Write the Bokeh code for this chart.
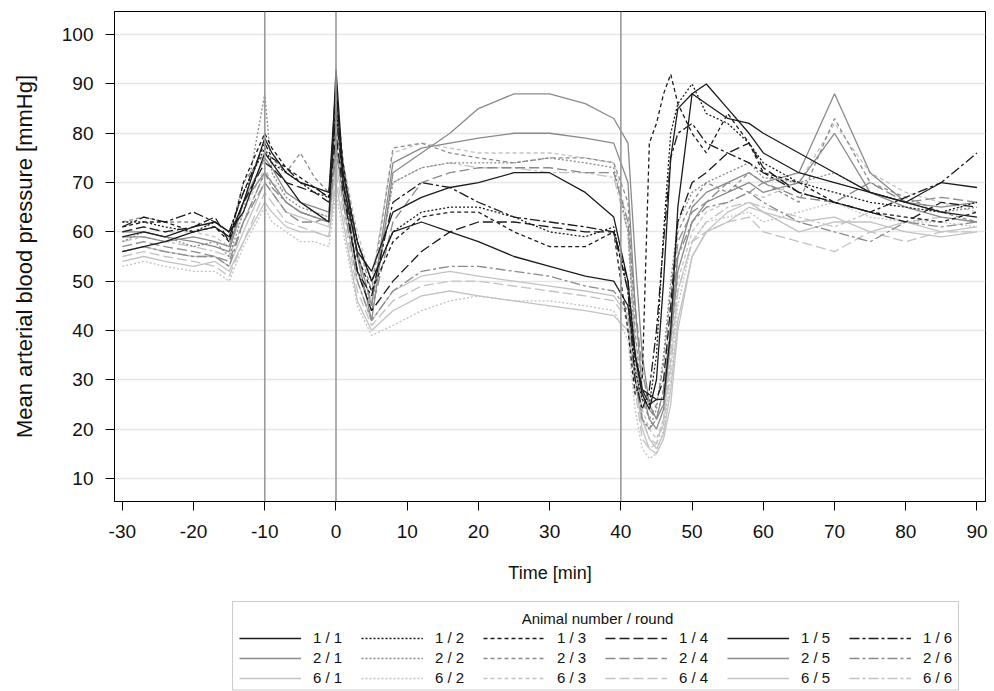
from bokeh.plotting import figure
from bokeh.layouts import column
from bokeh.models import (Range1d, Legend, LegendItem, Span, FixedTicker, Label,
                          BoxAnnotation)
from bokeh.embed import file_html
from bokeh.resources import INLINE

# Sampling times [min]
time_min = [-30, -27, -24, -20, -17, -15, -13, -10, -9, -7,
            -5, -3, -1, 0, 1, 3, 5, 8, 12, 16,
            20, 25, 30, 35, 39, 41, 42, 43, 44, 45,
            46, 47, 48, 50, 52, 55, 58, 60, 65, 70,
            75, 80, 85, 90]

# Mean arterial blood pressure [mmHg], one list per animal / round
map_1_1 = [56, 57, 58, 60, 61, 59, 66, 79, 76, 72, 70, 69, 68, 90, 70, 56, 52, 64, 67, 69,
           70, 72, 72, 68, 63, 50, 35, 27, 24, 30, 50, 75, 85, 88, 86, 83, 82, 80, 76, 72,
           68, 66, 70, 69]
map_1_2 = [62, 62, 61, 60, 62, 60, 68, 77, 74, 72, 70, 68, 67, 85, 72, 58, 50, 60, 64, 65,
           65, 63, 60, 59, 61, 48, 32, 26, 25, 35, 60, 80, 86, 90, 84, 82, 78, 74, 70, 68,
           66, 65, 64, 66]
map_1_3 = [61, 62, 62, 60, 61, 58, 70, 80, 77, 73, 71, 69, 67, 88, 74, 55, 48, 58, 63, 64,
           64, 60, 57, 57, 60, 40, 27, 30, 78, 82, 88, 92, 86, 80, 76, 84, 78, 72, 70, 66,
           64, 63, 62, 64]
map_1_4 = [60, 61, 60, 61, 63, 58, 66, 74, 73, 70, 69, 68, 66, 80, 68, 52, 44, 50, 56, 60,
           62, 62, 61, 60, 60, 50, 35, 28, 25, 26, 30, 45, 62, 70, 72, 76, 78, 73, 68, 66,
           64, 62, 66, 65]
map_1_5 = [59, 60, 59, 61, 62, 60, 64, 76, 74, 70, 66, 64, 62, 93, 72, 58, 50, 60, 62, 60,
           58, 55, 53, 51, 50, 45, 35, 28, 27, 26, 26, 40, 65, 88, 90, 85, 80, 76, 72, 70,
           68, 66, 64, 63]
map_1_6 = [61, 63, 62, 64, 62, 60, 68, 78, 75, 73, 70, 69, 67, 84, 70, 52, 47, 66, 70, 69,
           66, 63, 62, 61, 60, 48, 30, 24, 28, 40, 58, 75, 80, 82, 78, 76, 74, 72, 68, 66,
           64, 67, 70, 76]

map_2_1 = [60, 60, 59, 58, 57, 56, 66, 72, 70, 66, 64, 63, 62, 86, 72, 55, 42, 72, 76, 80,
           85, 88, 88, 86, 83, 78, 55, 35, 25, 22, 25, 40, 55, 65, 68, 70, 72, 70, 72, 88,
           72, 66, 65, 66]
map_2_2 = [58, 60, 59, 57, 58, 55, 64, 88, 72, 67, 65, 64, 63, 78, 70, 52, 45, 70, 73, 74,
           74, 74, 75, 74, 73, 60, 35, 22, 20, 24, 35, 50, 62, 68, 70, 72, 74, 71, 70, 72,
           68, 66, 64, 65]
map_2_3 = [62, 63, 62, 62, 61, 59, 70, 76, 75, 72, 76, 71, 68, 82, 74, 58, 48, 77, 78, 76,
           75, 74, 75, 75, 74, 66, 40, 26, 22, 25, 33, 48, 60, 66, 70, 68, 72, 70, 66, 83,
           70, 67, 64, 62]
map_2_4 = [57, 58, 57, 56, 55, 54, 62, 70, 68, 64, 62, 62, 63, 76, 68, 52, 44, 62, 70, 72,
           73, 73, 73, 72, 72, 62, 45, 32, 24, 22, 28, 42, 58, 64, 66, 70, 68, 70, 67, 66,
           70, 66, 67, 66]
map_2_5 = [59, 59, 58, 59, 58, 57, 66, 75, 73, 68, 66, 65, 64, 84, 70, 56, 45, 74, 77, 78,
           79, 80, 80, 79, 78, 70, 45, 28, 22, 20, 24, 38, 52, 62, 66, 68, 70, 68, 70, 80,
           68, 65, 63, 62]
map_2_6 = [56, 57, 56, 55, 55, 53, 62, 72, 69, 66, 64, 63, 62, 78, 66, 50, 42, 48, 52, 53,
           53, 52, 51, 49, 48, 44, 30, 22, 20, 22, 28, 40, 55, 62, 65, 66, 68, 66, 62, 60,
           58, 62, 61, 62]

map_6_1 = [54, 55, 54, 53, 54, 52, 58, 66, 64, 61, 60, 60, 59, 70, 62, 46, 40, 44, 47, 48,
           47, 46, 45, 44, 43, 40, 30, 20, 16, 15, 18, 25, 40, 55, 60, 62, 65, 64, 62, 63,
           60, 62, 60, 61]
map_6_2 = [53, 54, 53, 52, 52, 50, 57, 65, 62, 60, 58, 58, 57, 68, 60, 45, 39, 41, 44, 46,
           47, 46, 46, 45, 44, 38, 24, 16, 14, 15, 20, 30, 45, 58, 62, 63, 64, 62, 64, 66,
           63, 62, 62, 61]
map_6_3 = [60, 61, 60, 60, 59, 57, 64, 73, 70, 68, 66, 64, 63, 80, 74, 60, 50, 76, 78, 77,
           76, 76, 76, 75, 74, 62, 38, 24, 20, 18, 22, 35, 50, 60, 64, 66, 68, 67, 70, 82,
           72, 68, 66, 64]
map_6_4 = [55, 56, 55, 54, 53, 51, 58, 68, 66, 62, 61, 60, 59, 72, 64, 48, 41, 46, 49, 50,
           50, 49, 48, 47, 46, 42, 28, 18, 16, 17, 22, 34, 48, 58, 60, 62, 63, 60, 58, 56,
           60, 58, 60, 60]
map_6_5 = [56, 57, 56, 55, 55, 53, 60, 70, 68, 64, 63, 62, 61, 74, 66, 50, 42, 48, 51, 52,
           51, 50, 49, 48, 47, 43, 32, 22, 18, 16, 19, 28, 42, 55, 60, 64, 66, 64, 60, 62,
           62, 60, 59, 60]
map_6_6 = [58, 59, 58, 57, 56, 55, 62, 72, 70, 66, 64, 63, 62, 78, 70, 55, 46, 70, 73, 74,
           73, 73, 72, 72, 71, 60, 36, 22, 18, 17, 21, 32, 48, 58, 62, 65, 66, 65, 63, 61,
           64, 62, 63, 62]

animals = ["1", "2", "6"]
rounds = ["1", "2", "3", "4", "5", "6"]
x_ticks = [-30, -20, -10, 0, 10, 20, 30, 40, 50, 60, 70, 80, 90]
y_ticks = [10, 20, 30, 40, 50, 60, 70, 80, 90, 100]
event_times = [-10, 0, 40]

series = {
    ("1", "1"): map_1_1, ("1", "2"): map_1_2, ("1", "3"): map_1_3,
    ("1", "4"): map_1_4, ("1", "5"): map_1_5, ("1", "6"): map_1_6,
    ("2", "1"): map_2_1, ("2", "2"): map_2_2, ("2", "3"): map_2_3,
    ("2", "4"): map_2_4, ("2", "5"): map_2_5, ("2", "6"): map_2_6,
    ("6", "1"): map_6_1, ("6", "2"): map_6_2, ("6", "3"): map_6_3,
    ("6", "4"): map_6_4, ("6", "5"): map_6_5, ("6", "6"): map_6_6,
}

animal_color = {"1": "#1c1c1c", "2": "#8a8a8a", "6": "#c2c2c2"}
round_dash = {"1": "solid", "2": "2 2", "3": "4 3", "4": "10 4", "5": "solid",
              "6": "10 3 3 3"}

FONT = "Liberation Sans"
W = 994
H_MAIN = 596
H_KEY = 95
FRAME_L, FRAME_R = 114, 985

# ---- main time-course panel ----
p = figure(width=W, height=H_MAIN, output_backend="svg", toolbar_location=None,
           x_range=Range1d(-31.1, 91.2), y_range=Range1d(5.3, 104.7),
           min_border_left=FRAME_L, min_border_right=W - FRAME_R, min_border_top=11,
           min_border_bottom=H_MAIN - 501)

p.outline_line_color = "black"
p.outline_line_width = 1
p.xgrid.visible = False
p.ygrid.ticker = FixedTicker(ticks=y_ticks)
p.ygrid.grid_line_color = "#e6e6e6"
p.ygrid.grid_line_width = 1.5

for ax in (p.xaxis[0], p.yaxis[0]):
    ax.axis_line_color = "black"
    ax.major_tick_line_color = "black"
    ax.major_tick_out = 9
    ax.major_tick_in = 0
    ax.minor_tick_line_color = None
    ax.major_label_text_font = FONT
    ax.major_label_text_font_size = "19px"
    ax.major_label_text_color = "#111111"
    ax.axis_label_text_font = FONT
    ax.axis_label_text_font_style = "normal"
    ax.axis_label_text_color = "#111111"

p.xaxis.ticker = FixedTicker(ticks=x_ticks)
p.yaxis.ticker = FixedTicker(ticks=y_ticks)
# plain hyphen-minus on negative times
p.xaxis.major_label_overrides = {t: str(t) for t in x_ticks}
p.xaxis.axis_label = "Time [min]"
p.yaxis.axis_label = "Mean arterial blood pressure [mmHg]"
p.xaxis.axis_label_text_font_size = "18px"
p.yaxis.axis_label_text_font_size = "22px"
p.xaxis.major_label_standoff = 14
p.yaxis.major_label_standoff = 12
p.xaxis.axis_label_standoff = 22
p.yaxis.axis_label_standoff = 22

for t in event_times:
    p.add_layout(Span(location=t, dimension="height", line_color="#9a9a9a", line_width=1.6))

for a in reversed(animals):
    for r in rounds:
        p.line(time_min, series[(a, r)], line_color=animal_color[a],
               line_dash=round_dash[r], line_width=1.3)

# ---- key panel: its frame lines up with the main frame, data units = canvas px ----
k = figure(width=W, height=H_KEY, output_backend="svg", toolbar_location=None,
           x_range=Range1d(FRAME_L, FRAME_R), y_range=Range1d(0, H_KEY),
           x_axis_type=None, y_axis_type=None,
           min_border_left=FRAME_L, min_border_right=W - FRAME_R,
           min_border_top=0, min_border_bottom=0)
k.outline_line_color = None
k.grid.visible = False

# legend proxies: same series, drawn outside this panel's visible range
samples = {}
for a in animals:
    for r in rounds:
        samples[(a, r)] = k.line(time_min, series[(a, r)], line_color=animal_color[a],
                                 line_dash=round_dash[r], line_width=1.3)

items = [LegendItem(label=f"{a} / {r}", renderers=[samples[(a, r)]])
         for a in animals for r in rounds]

legend = Legend(items=items, orientation="horizontal", ncols=6, location=(239 - FRAME_L, 5),
                label_text_font=FONT, label_text_font_size="15px",
                label_text_color="#111111",
                glyph_width=62, glyph_height=12, label_height=12, label_width=45,
                label_standoff=12, spacing=3, padding=4, margin=0,
                border_line_color=None, background_fill_alpha=0)
k.add_layout(legend, "center")

k.add_layout(BoxAnnotation(left=232, right=958, bottom=1.5, top=90,
                           fill_alpha=0, line_color="#555555", line_width=1))
k.add_layout(Label(x=597, y=73, text="Animal number / round", text_font=FONT,
                   text_font_size="15px", text_color="#111111",
                   text_align="center", text_baseline="middle"))

open("out.html", "w").write(file_html(column(p, k), INLINE))
